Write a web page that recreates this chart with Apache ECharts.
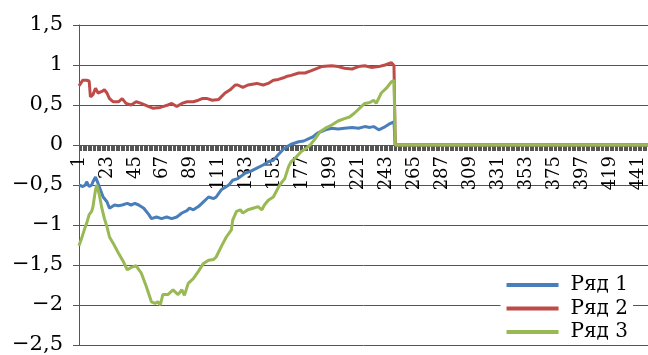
<!DOCTYPE html>
<html>
<head>
<meta charset="utf-8">
<script src="https://cdn.jsdelivr.net/npm/echarts@6/dist/echarts.min.js"></script>
<style>
  html, body { margin: 0; padding: 0; background: #fff; }
  #chart { width: 648px; height: 355px; }
</style>
</head>
<body>
<div id="chart"></div>
<script>
// Category axis: observation numbers 1..449
const categoryCount = 449;
const categories = Array.from({ length: categoryCount }, (_, i) => String(i + 1));

// Y axis range and step
const yMin = -2.5, yMax = 1.5, yStep = 0.5;

// Series names
const seriesNames = ['Ряд 1', 'Ряд 2', 'Ряд 3'];

// Each point: [observation number, value]
const row1 = [
  [1,-0.50],[4,-0.52],[6,-0.50],[7,-0.46],[9,-0.52],[11,-0.50],[12,-0.46],[14,-0.40],
  [16,-0.48],[20,-0.65],[23,-0.71],[25,-0.79],[29,-0.75],[32,-0.76],[35,-0.75],[39,-0.73],
  [42,-0.75],[45,-0.73],[48,-0.75],[52,-0.79],[56,-0.87],[58,-0.92],[62,-0.90],[66,-0.92],
  [70,-0.90],[74,-0.92],[78,-0.90],[82,-0.85],[86,-0.82],[88,-0.79],[91,-0.81],[95,-0.77],
  [99,-0.71],[103,-0.65],[107,-0.67],[109,-0.65],[113,-0.56],[119,-0.50],[122,-0.44],
  [126,-0.42],[132,-0.35],[136,-0.33],[141,-0.29],[146,-0.25],[150,-0.21],[154,-0.19],
  [158,-0.12],[162,-0.05],[166,-0.01],[168,0.01],[174,0.04],[178,0.05],[182,0.08],
  [185,0.10],[189,0.15],[195,0.19],[200,0.21],[205,0.20],[210,0.21],[216,0.22],[221,0.21],
  [226,0.23],[230,0.22],[233,0.23],[237,0.19],[241,0.22],[245,0.26],[249,0.29],
  [250,0],[449,0]
];
const row2 = [
  [1,0.74],[4,0.81],[7,0.81],[9,0.80],[10,0.60],[12,0.63],[14,0.71],[16,0.65],[19,0.67],
  [21,0.69],[23,0.65],[25,0.58],[28,0.54],[32,0.54],[35,0.58],[38,0.52],[42,0.50],[46,0.54],
  [50,0.52],[56,0.48],[59,0.46],[65,0.47],[67,0.48],[71,0.50],[74,0.52],[78,0.48],[82,0.52],
  [86,0.54],[91,0.54],[95,0.56],[98,0.58],[102,0.58],[106,0.56],[111,0.57],[116,0.65],
  [120,0.69],[124,0.75],[126,0.75],[130,0.72],[134,0.75],[141,0.77],[146,0.75],[150,0.77],
  [154,0.81],[158,0.82],[162,0.84],[165,0.86],[168,0.87],[174,0.90],[179,0.90],[184,0.93],
  [192,0.98],[200,0.99],[205,0.98],[210,0.96],[216,0.95],[221,0.98],[226,0.99],[231,0.97],
  [237,0.98],[242,1.00],[247,1.03],[249,0.99],
  [250,0],[449,0]
];
const row3 = [
  [1,-1.26],[3,-1.17],[4,-1.12],[6,-1.02],[7,-0.98],[9,-0.87],[11,-0.83],[12,-0.77],
  [14,-0.56],[15,-0.50],[17,-0.62],[19,-0.79],[21,-0.92],[23,-1.02],[25,-1.15],[28,-1.23],
  [32,-1.35],[36,-1.46],[39,-1.56],[42,-1.53],[46,-1.51],[50,-1.60],[54,-1.77],[58,-1.96],
  [61,-1.98],[63,-1.96],[65,-2.00],[67,-1.87],[71,-1.87],[75,-1.81],[79,-1.87],[82,-1.81],
  [84,-1.88],[87,-1.73],[91,-1.67],[95,-1.58],[99,-1.48],[103,-1.44],[107,-1.43],[109,-1.40],
  [113,-1.27],[117,-1.15],[121,-1.06],[122,-0.94],[125,-0.83],[128,-0.81],[130,-0.85],
  [134,-0.81],[138,-0.79],[142,-0.77],[145,-0.81],[147,-0.75],[150,-0.69],[154,-0.65],
  [157,-0.56],[159,-0.50],[163,-0.42],[166,-0.27],[168,-0.21],[172,-0.15],[176,-0.08],
  [180,-0.04],[183,0.00],[187,0.08],[191,0.17],[195,0.21],[200,0.25],[205,0.30],[210,0.33],
  [214,0.35],[218,0.40],[222,0.46],[226,0.52],[230,0.53],[233,0.56],[235,0.52],[239,0.65],
  [243,0.71],[247,0.79],[249,0.81],
  [250,0],[449,0]
];

const seriesColors = ['#4A7EBB', '#BE4B48', '#98B954'];
const FONT = 'DejaVu Serif';

// Convert observation numbers to category indices
const toIdx = pts => pts.map(p => [p[0] - 1, p[1]]);

// Decimal comma, long minus sign
const fmt = v => String(Math.round(v * 10) / 10).replace('.', ',').replace('-', '\u2212');

const chart = echarts.init(document.getElementById('chart'), null, { renderer: 'canvas' });
const option = {
  animation: false,
  backgroundColor: '#fff',
  grid: { left: 79, right: 0, top: 25, bottom: 10, containLabel: false, outerBoundsMode: 'none' },
  xAxis: {
    type: 'category',
    data: categories,
    boundaryGap: false,
    position: 'bottom',
    offset: 0,
    axisLine: { onZero: false, lineStyle: { color: '#555', width: 1 } },
    axisTick: { show: true, interval: 0, length: 6, lineStyle: { color: '#555', width: 1 } },
    axisLabel: {
      interval: 21, rotate: 90, margin: 11,
      fontFamily: FONT, fontSize: 18, color: '#000'
    },
    splitLine: { show: false }
  },
  yAxis: {
    type: 'value',
    min: yMin, max: yMax, interval: yStep,
    axisLine: { show: true, lineStyle: { color: '#555', width: 1 } },
    axisTick: { show: true, length: 6, lineStyle: { color: '#555' } },
    axisLabel: {
      formatter: fmt, margin: 16,
      fontFamily: FONT, fontSize: 21, color: '#000'
    },
    splitLine: { show: true, lineStyle: { color: '#555', width: 1 } }
  },
  legend: {
    orient: 'vertical',
    right: 15, top: 273,
    backgroundColor: '#fff',
    padding: [2, 5, 1, 6],
    itemGap: 3.5,
    itemWidth: 52, itemHeight: 4,
    icon: 'rect',
    textStyle: { fontFamily: FONT, fontSize: 20, color: '#000', lineHeight: 20, padding: [0, 0, 0, 7] },
    data: seriesNames
  },
  series: [row1, row2, row3].map((pts, i) => ({
    name: seriesNames[i],
    type: 'line',
    data: toIdx(pts),
    showSymbol: false,
    symbol: 'none',
    lineStyle: { color: seriesColors[i], width: 3 },
    itemStyle: { color: seriesColors[i] },
    z: 2 + i
  }))
};
chart.setOption(option);

// Lift the category axis (line, ticks, labels) up to the y = 0 level
const zeroY = chart.convertToPixel({ yAxisIndex: 0 }, 0);
const bottomY = chart.convertToPixel({ yAxisIndex: 0 }, yMin);
chart.setOption({ xAxis: { offset: zeroY - bottomY } });
</script>
</body>
</html>
